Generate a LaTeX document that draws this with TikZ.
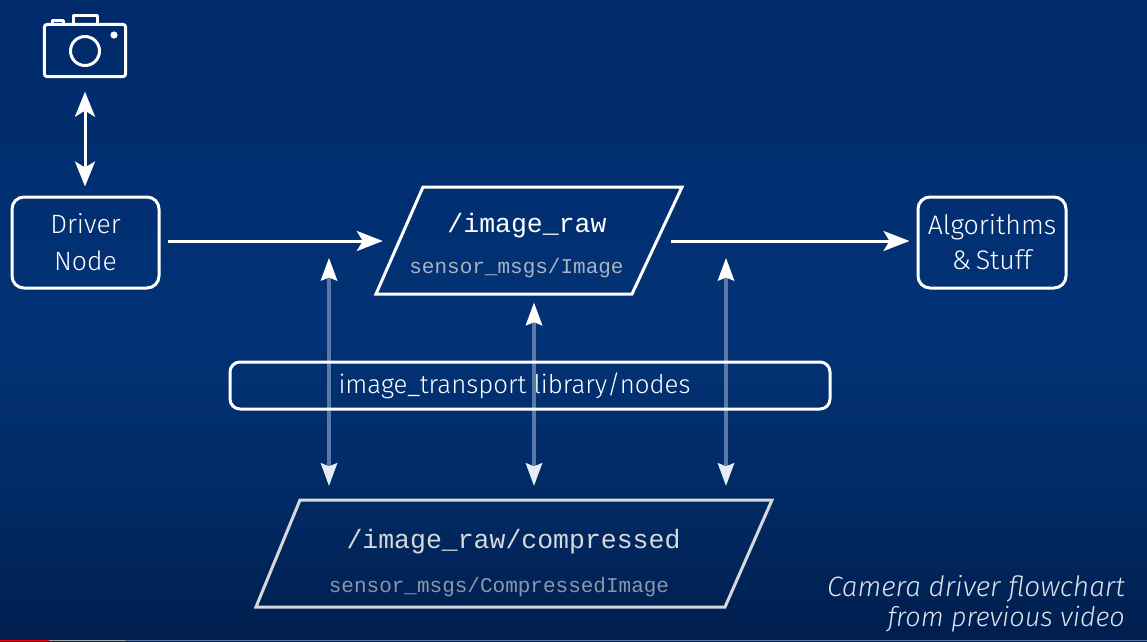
\documentclass[tikz,border=0pt]{standalone}
\usepackage{fontspec}
\usetikzlibrary{arrows.meta}
\setmainfont{Fira Sans Light}[ItalicFont={Fira Sans Light Italic}]
\newfontfamily\codefont{Liberation Mono}
\definecolor{bgtop}{RGB}{0,42,106}
\definecolor{bgmid}{RGB}{2,50,118}
\definecolor{bglow}{RGB}{1,42,100}
\definecolor{bgbot}{RGB}{0,30,78}
\definecolor{soft}{RGB}{215,216,218}
\definecolor{subraw}{RGB}{170,178,190}
\definecolor{subcomp}{RGB}{140,150,168}
\definecolor{capcol}{RGB}{222,226,234}
\definecolor{linkcol}{RGB}{92,120,168}
\tikzset{
  x=1pt,y=-1pt,
  roundbox/.style={draw=white,line width=3pt,rounded corners=12pt,align=center,inner sep=0pt,text=white},
  topicbox/.style={inner sep=0pt,align=center},
  rawline/.style={draw=white,line width=3pt,line join=miter},
  compline/.style={draw=soft,line width=3pt,line join=miter},
  flowarrow/.style={draw=white,line width=3pt,-{Stealth[length=26pt,width=20pt,inset=6pt]}},
  camarrow/.style={draw=white,line width=3pt,{Stealth[length=25pt,width=20pt,inset=6pt]}-{Stealth[length=25pt,width=20pt,inset=6pt]}},
  linkline/.style={draw=linkcol,line width=3.2pt},
  headup/.style={fill=white},
  headdown/.style={fill=white!90!bgmid},
  camstroke/.style={draw=white,line width=3pt,line join=round},
}
\begin{document}
\begin{tikzpicture}
\useasboundingbox (0,0) rectangle (1147,641);
\shade[top color=bgtop,bottom color=bgmid] (0,0) rectangle (1147,330);
\shade[top color=bgmid,bottom color=bglow] (0,330) rectangle (1147,500);
\shade[top color=bglow,bottom color=bgbot] (0,500) rectangle (1147,641);

\coordinate (lefttop) at (329,258);
\coordinate (righttop) at (726,258);
\coordinate (midx) at (534,400);

% nodes
\node[roundbox,minimum width=147pt,minimum height=91pt,font=\fontsize{26.5}{36}\selectfont] (driver) at (85.5,242.5) {Driver\\[1pt]Node};
\node[roundbox,minimum width=148pt,minimum height=91pt,font=\fontsize{26.8}{36}\selectfont] (algo) at (992,242.5) {Algorithms\\[-1pt]\&\,Stuff};
\node[topicbox,minimum width=288pt,minimum height=107pt] (raw) at (527,241) {};
\node[topicbox,minimum width=516pt,minimum height=107pt] (comp) at (514,553.5) {};

% vertical links
\draw[linkline,shorten <=18pt,shorten >=18pt] (lefttop) -- (lefttop |- comp.north);
\draw[linkline,shorten <=18pt,shorten >=18pt] (righttop) -- (righttop |- comp.north);
\draw[linkline,shorten <=26pt,shorten >=18pt] (midx |- raw.south) -- (midx |- comp.north);

\node[roundbox,rounded corners=10pt,minimum width=600pt,minimum height=47pt] (transport) at (530,385.5) {};
\node[text=white,font=\fontsize{25.8}{30}\selectfont,inner sep=0pt] (transportt) at (514.5,385.5) {image\_transport library/nodes};

% arrow heads on the links
\foreach \c in {lefttop,righttop}{
  \fill[headup] (\c) -- ++(-8.5,23) -- ++(8.5,-3.5) -- ++(8.5,3.5) -- cycle;
}
\fill[headup] ([yshift=-8pt]midx |- raw.south) -- ++(-8.5,23) -- ++(8.5,-3.5) -- ++(8.5,3.5) -- cycle;
\foreach \c in {lefttop,righttop,midx}{
  \fill[headdown] ([yshift=14pt]\c |- comp.north) -- ++(-8.5,-23) -- ++(8.5,3.5) -- ++(8.5,-3.5) -- cycle;
}

% parallelograms
\draw[rawline] (423,187) -- (682,187) -- (632,294) -- (376,294) -- cycle;
\draw[compline] (300,500) -- (772,500) -- (725,607) -- (256,607) -- cycle;

% topic texts
\node[text=white,font=\codefont\fontsize{26.5}{30}\selectfont,inner sep=0pt] (rawt) at (527,226) {/image\_raw};
\node[text=subraw,font=\codefont\fontsize{21}{26}\selectfont,inner sep=0pt] (raws) at (516.5,268) {sensor\_msgs/Image};
\node[text=soft,font=\codefont\fontsize{26.5}{30}\selectfont,inner sep=0pt] (compt) at (513.5,542) {/image\_raw/compressed};
\node[text=subcomp,font=\codefont\fontsize{21}{26}\selectfont,inner sep=0pt] (comps) at (499,587) {sensor\_msgs/CompressedImage};

% main flow
\draw[flowarrow,shorten <=7pt] (driver.east |- raw.west) -- (raw.west);
\draw[flowarrow,shorten >=7pt] (raw.east) -- (algo.west |- raw.east);

% camera icon
\node[draw=none,inner sep=0pt,minimum width=81pt,minimum height=52pt] (camera) at (85,50.5) {};
\draw[camstroke,rounded corners=3pt] (camera.south west) rectangle (camera.north east);
\draw[camstroke] (85,51) circle (14.5);
\fill[white] (114,35) circle (3.6);
\draw[camstroke] (52,25) -- (52,20) -- (63,20) -- (63,25);
\draw[camstroke] (73,25) -- (73,15.5) -- (97,15.5) -- (97,25);
\draw[camarrow,shorten >=9pt,shorten <=15pt] (camera.south) -- (camera.south |- driver.north);

% caption
\node[anchor=east,text=capcol,font=\itshape\fontsize{28}{30}\selectfont,inner sep=0pt] (cap1) at (1125,589) {Camera driver flowchart};
\node[anchor=east,text=capcol,font=\itshape\fontsize{27}{30}\selectfont,inner sep=0pt] (cap2) at (1125,619) {from previous video};

% progress bar
\fill[red] (0,639.5) rectangle (49,641);
\fill[gray!70] (49,639.5) rectangle (125,641);
\fill[linkcol] (125,640) rectangle (1147,641);
\end{tikzpicture}
\end{document}
